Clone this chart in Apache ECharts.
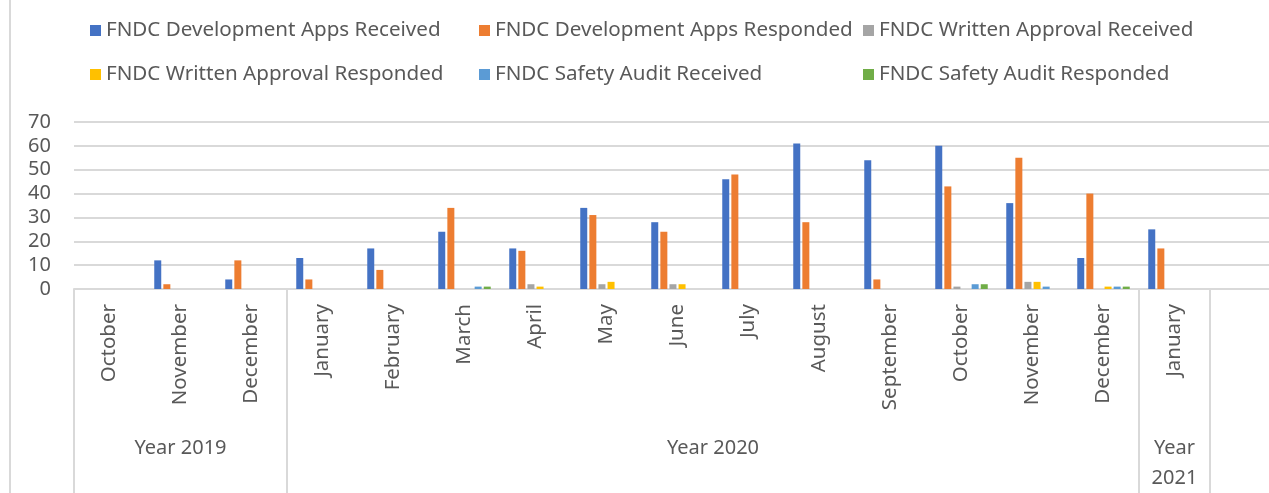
<!DOCTYPE html>
<html>
<head>
<meta charset="utf-8">
<script src="https://cdn.jsdelivr.net/npm/echarts@6/dist/echarts.min.js"></script>
<style>
  html, body { margin: 0; padding: 0; background: #fff; overflow: hidden; }
  /* a bit wider than the window: the last (empty) category is cut off like in the source */
  #chart { width: 1281px; height: 493px; }
  .frame { position: absolute; left: 9px; top: 0; width: 2px; height: 493px; background: #d9d9d9; }
</style>
</head>
<body>
<div id="chart"></div>
<div class="frame"></div>
<script>
// months, last slot is the empty category at the right edge
var months = ['October', 'November', 'December', 'January', 'February', 'March', 'April', 'May', 'June',
  'July', 'August', 'September', 'October', 'November', 'December', 'January', '']
// year groups: label, centre (in category units), boundaries
var yearLabels = ['Year 2019', 'Year 2020', 'Year\n2021']
var yearCentres = [1.5, 9, 15.5]
var yearBounds = [0, 3, 15, 16, 17]

var devReceived = [0, 12, 4, 13, 17, 24, 17, 34, 28, 46, 61, 54, 60, 36, 13, 25]
var devResponded = [0, 2, 12, 4, 8, 34, 16, 31, 24, 48, 28, 4, 43, 55, 40, 17]
var waReceived = [0, 0, 0, 0, 0, 0, 2, 2, 2, 0, 0, 0, 1, 3, 0, 0]
var waResponded = [0, 0, 0, 0, 0, 0, 1, 3, 2, 0, 0, 0, 0, 3, 1, 0]
var saReceived = [0, 0, 0, 0, 0, 1, 0, 0, 0, 0, 0, 0, 2, 1, 1, 0]
var saResponded = [0, 0, 0, 0, 0, 1, 0, 0, 0, 0, 0, 0, 2, 0, 1, 0]

var names = ['FNDC Development Apps Received', 'FNDC Development Apps Responded', 'FNDC Written Approval Received',
  'FNDC Written Approval Responded', 'FNDC Safety Audit Received', 'FNDC Safety Audit Responded']
var colors = ['#4472C4', '#ED7D31', '#A5A5A5', '#FFC000', '#5B9BD5', '#70AD47']
var values = [devReceived, devResponded, waReceived, waResponded, saReceived, saResponded]

var font = 'Noto Sans'
var textColor = '#595959'
var lineColor = '#d9d9d9'

// legend placed like excel: 3 columns, 2 rows
var legendLeft = [90, 479, 863]
var legendTop = [20, 64]
var legends = names.map(function (n, i) {
  return {
    data: [n],
    left: legendLeft[i % 3],
    top: legendTop[Math.floor(i / 3)],
    padding: 0,
    icon: 'rect',
    itemWidth: 11,
    itemHeight: 11,
    textStyle: { color: textColor, fontSize: 20.6, fontFamily: font }
  }
})

var chart = echarts.init(document.getElementById('chart'))
var option = {
  animation: false,
  color: colors,
  legend: legends,
  grid: { left: 74, right: 0, top: 122, bottom: 203 },
  xAxis: [
    {
      type: 'category',
      data: months,
      axisLine: { lineStyle: { color: lineColor, width: 2 } },
      axisTick: { show: false },
      axisLabel: {
        interval: 0,
        rotate: 90,
        margin: 15,
        color: textColor,
        fontSize: 20.5,
        fontFamily: font
      }
    },
    {
      // second level of the axis: year groups
      type: 'value',
      position: 'bottom',
      min: 0,
      max: 17,
      axisLine: { show: false },
      splitLine: { show: false },
      axisTick: {
        show: true,
        customValues: yearBounds,
        length: 205,
        lineStyle: { color: lineColor, width: 2 }
      },
      axisLabel: {
        customValues: yearCentres,
        margin: 144,
        color: textColor,
        fontSize: 20,
        fontFamily: font,
        lineHeight: 30,
        verticalAlign: 'top',
        formatter: function (v) {
          return yearLabels[yearCentres.indexOf(v)]
        }
      }
    }
  ],
  yAxis: {
    type: 'value',
    min: 0,
    max: 70,
    interval: 10,
    axisLine: { show: false },
    axisTick: { show: false },
    splitLine: { lineStyle: { color: lineColor, width: 2 } },
    axisLabel: { margin: 23, color: textColor, fontSize: 20, fontFamily: font }
  },
  series: values.map(function (v, i) {
    return {
      name: names[i],
      type: 'bar',
      barWidth: 7,
      barGap: '30%',
      data: v
    }
  })
}
chart.setOption(option)
</script>
</body>
</html>
